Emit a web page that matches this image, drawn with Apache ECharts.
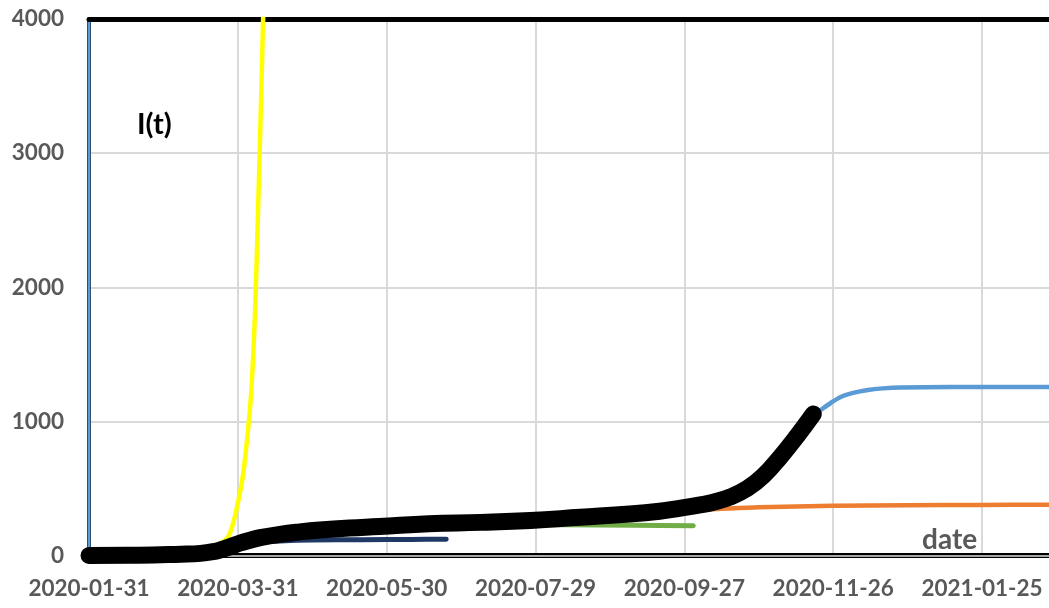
<!DOCTYPE html>
<html>
<head>
<meta charset="utf-8">
<script src="https://cdn.jsdelivr.net/npm/echarts@6/dist/echarts.min.js"></script>
<style>
html,body{margin:0;padding:0;background:#fff;}
#chart{width:1049px;height:608px;}
</style>
</head>
<body>
<div id="chart"></div>
<script>
// x values are days since 2020-01-31
const tickLabels = ['2020-01-31','2020-03-31','2020-05-30','2020-07-29','2020-09-27','2020-11-26','2021-01-25'];
const yTicks = [0, 1000, 2000, 3000, 4000];

const observedI = [[0,0],[20,2],[37,10],[45,16],[50,28],[53,42],[57,66],[61,93],[65,114],[69,133],[77,158],[85,176],[93,190],[105,205],[117,216],[137,237],[158,247],[178,261],[198,285],[218,309],[230,330],[238,352],[246.4,377],[251.7,397],[258.6,437],[265.4,500],[271.8,593],[278.7,735],[285.6,895],[292,1055]];
const modelYellow = [[0,1],[30,5],[45,30],[52,80],[56,138],[58,235],[60,390],[62,590],[64,913],[65.5,1250],[67,1850],[68.2,2600],[69.3,3350],[70.2,4008],[71,4800]];
const modelNavy = [[0,0],[40,5],[50,20],[55,40],[60,65],[65,85],[70,100],[77,108],[90,115],[110,118],[130,120],[144,121]];
const modelGreen = [[0,0],[50,15],[60,60],[70,120],[80,165],[100,200],[130,220],[160,228],[191,229],[220,226],[243.6,222]];
const modelOrange = [[0,0],[50,15],[60,70],[75,150],[100,205],[150,240],[200,285],[230,318],[245,338],[257,350],[270,360],[300,370],[330,375],[360,377],[387,378]];
const modelBlue = [[0,0],[50,20],[60,90],[80,165],[120,218],[160,247],[200,287],[230,325],[246,377],[258,430],[265,495],[272,595],[279,735],[286,895],[292,1045],[295,1085],[299,1137],[303,1182],[308,1212],[314,1234],[320,1246],[327,1253],[347,1257],[387,1257]];

const chart = echarts.init(document.getElementById('chart'), null, {renderer:'canvas'});
const FONT = 'Lato';
const gray = '#595959';

function lineSeries(data, color, width, extra) {
  return Object.assign({
    type: 'line', data: data, showSymbol: false, symbol: 'none',
    smooth: 0.3,
    lineStyle: {color: color, width: width, cap: 'round', join: 'round'},
    itemStyle: {color: color},
    silent: true, animation: false
  }, extra || {});
}

chart.setOption({
  animation: false,
  grid: {left: 89, right: 0, top: 19, bottom: 52.5, containLabel: false, outerBoundsMode: 'none'},
  xAxis: [
    {
      type: 'value', min: 0, max: 387, interval: 60, position: 'bottom',
      axisLine: {show: true, lineStyle: {color: '#000', width: 5}},
      axisTick: {show: false},
      axisLabel: {
        margin: 22, color: gray, fontFamily: FONT, fontWeight: 'bold', fontSize: 22.5,
        showMaxLabel: false,
        formatter: function (v) { return (v % 60 === 0 && tickLabels[v/60]) ? tickLabels[v/60] : ''; }
      },
      splitLine: {show: true, showMaxLine: false, lineStyle: {color: '#d9d9d9', width: 2}}
    },
    {
      type: 'value', min: 0, max: 387, interval: 60, position: 'bottom',
      axisLine: {show: true, lineStyle: {color: '#a6a6a6', width: 2}},
      axisTick: {show: false}, axisLabel: {show: false}, splitLine: {show: false}
    },
    {
      type: 'value', min: 0, max: 387, interval: 60, position: 'top',
      axisLine: {show: true, lineStyle: {color: '#000', width: 5}},
      axisTick: {show: false}, axisLabel: {show: false}, splitLine: {show: false}
    }
  ],
  yAxis: [
    {
      type: 'value', min: 0, max: 4000, interval: 1000, position: 'left',
      axisLine: {show: true, lineStyle: {color: '#2f5072', width: 4}},
      axisTick: {show: false},
      axisLabel: {
        margin: 25, color: gray, fontFamily: FONT, fontWeight: 'bold', fontSize: 22.5,
        formatter: function (v) { return yTicks.indexOf(v) >= 0 ? String(v) : ''; }
      },
      splitLine: {show: true, lineStyle: {color: '#d9d9d9', width: 2}}
    },
    {
      type: 'value', min: 0, max: 4000, interval: 1000, position: 'left',
      axisLine: {show: true, lineStyle: {color: '#5b9bd5', width: 2}},
      axisTick: {show: false}, axisLabel: {show: false}, splitLine: {show: false}
    }
  ],
  graphic: [
    {type: 'text', left: 137, top: 110, silent: true,
     style: {text: 'I(t)', fill: '#000', font: 'bold 29px Lato'}},
    {type: 'text', left: 922, top: 526, silent: true,
     style: {text: 'date', fill: gray, font: 'bold 28px Lato'}}
  ],
  series: [
    lineSeries(modelBlue, '#5b9bd5', 4.5),
    lineSeries(modelOrange, '#ed7d31', 4.5),
    lineSeries(modelGreen, '#70ad47', 5),
    lineSeries(modelNavy, '#203864', 5),
    lineSeries(modelYellow, '#ffff00', 4.5),
    lineSeries(observedI, '#000000', 17, {clip: false, z: 5, smooth: 0.45})
  ]
});
</script>
</body>
</html>
